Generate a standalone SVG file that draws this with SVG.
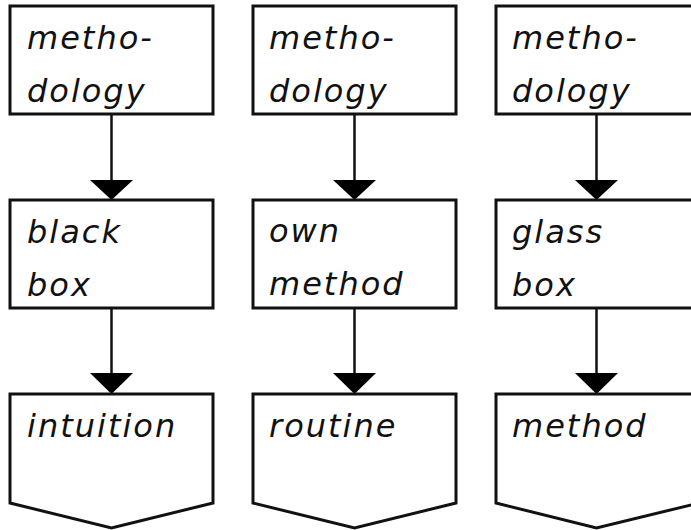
<svg xmlns="http://www.w3.org/2000/svg" width="691" height="530" viewBox="0 0 691 530">
  <defs>
    <style>
      .box { fill: #ffffff; stroke: #111111; stroke-width: 3; }
      .edge { fill: none; stroke: #111111; stroke-width: 2.5; }
      .head { fill: #000000; stroke: none; }
      .lbl { font-family: "DejaVu Sans", "Liberation Sans", sans-serif; font-style: italic; font-size: 32px; letter-spacing: 2px; fill: #111111; }
    </style>
  </defs>
  <rect width="691" height="530" fill="#ffffff"/>

  <!-- connectors: vertical lines with filled triangular heads -->
  <g id="connectors">
    <line class="edge" x1="111.5" y1="114" x2="111.5" y2="182"/>
    <polygon class="head" points="90,180 133,180 111.5,200"/>
    <line class="edge" x1="111.5" y1="308" x2="111.5" y2="375"/>
    <polygon class="head" points="90,373 133,373 111.5,394"/>

    <line class="edge" x1="354.5" y1="114" x2="354.5" y2="182"/>
    <polygon class="head" points="333,180 376,180 354.5,200"/>
    <line class="edge" x1="354.5" y1="308" x2="354.5" y2="375"/>
    <polygon class="head" points="333,373 376,373 354.5,394"/>

    <line class="edge" x1="596.5" y1="114" x2="596.5" y2="182"/>
    <polygon class="head" points="575,180 618,180 596.5,200"/>
    <line class="edge" x1="596.5" y1="308" x2="596.5" y2="375"/>
    <polygon class="head" points="575,373 618,373 596.5,394"/>
  </g>

  <!-- column 1 -->
  <g id="methodology-1">
    <rect class="box" x="10" y="6" width="203" height="108"/>
    <text class="lbl" x="27" y="49">metho-</text>
    <text class="lbl" x="27" y="102">dology</text>
  </g>
  <g id="black-box">
    <rect class="box" x="10" y="200" width="203" height="108"/>
    <text class="lbl" x="27" y="243">black</text>
    <text class="lbl" x="27" y="296">box</text>
  </g>
  <g id="intuition">
    <polygon class="box" points="10,394 213,394 213,503 111.5,528 10,503"/>
    <text class="lbl" x="27" y="437">intuition</text>
  </g>

  <!-- column 2 -->
  <g id="methodology-2">
    <rect class="box" x="253" y="6" width="203" height="108"/>
    <text class="lbl" x="269" y="49">metho-</text>
    <text class="lbl" x="269" y="102">dology</text>
  </g>
  <g id="own-method">
    <rect class="box" x="253" y="200" width="203" height="108"/>
    <text class="lbl" x="269" y="242">own</text>
    <text class="lbl" x="269" y="295">method</text>
  </g>
  <g id="routine">
    <polygon class="box" points="253,394 456,394 456,503 354.5,528 253,503"/>
    <text class="lbl" x="269" y="437">routine</text>
  </g>

  <!-- column 3 -->
  <g id="methodology-3">
    <rect class="box" x="496" y="6" width="203" height="108"/>
    <text class="lbl" x="512" y="49">metho-</text>
    <text class="lbl" x="512" y="102">dology</text>
  </g>
  <g id="glass-box">
    <rect class="box" x="496" y="200" width="203" height="108"/>
    <text class="lbl" x="512" y="243">glass</text>
    <text class="lbl" x="512" y="296">box</text>
  </g>
  <g id="method">
    <polygon class="box" points="496,394 699,394 699,503 596.5,528 496,503"/>
    <text class="lbl" x="512" y="437">method</text>
  </g>
</svg>
